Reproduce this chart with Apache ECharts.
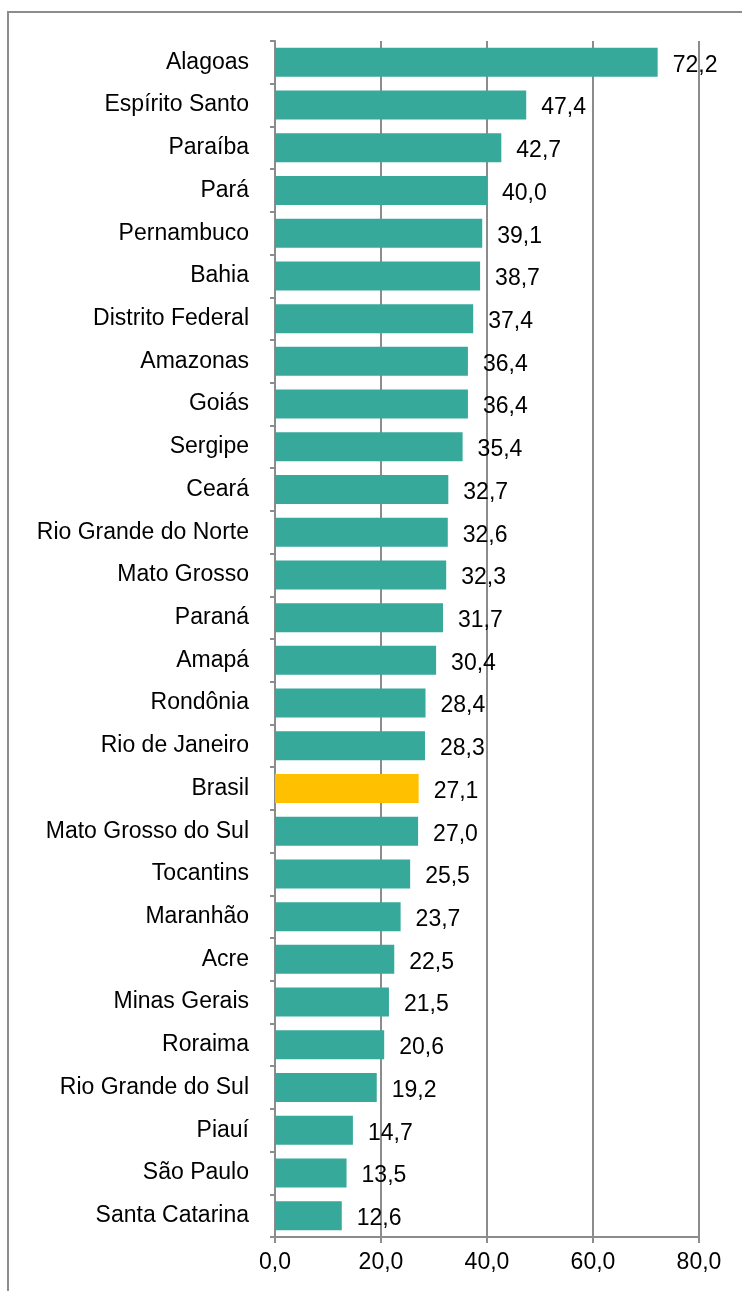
<!DOCTYPE html>
<html>
<head>
<meta charset="utf-8">
<script src="https://cdn.jsdelivr.net/npm/echarts@6/dist/echarts.min.js"></script>
<style>
  html, body { margin: 0; padding: 0; background: #fff; overflow: hidden; }
  #frame { position: absolute; left: 7px; top: 11px; width: 800px; height: 1400px; border: 2px solid #8c8c8c; box-sizing: border-box; }
  #chart { position: absolute; left: 0; top: 0; width: 742px; height: 1291px; }
</style>
</head>
<body>
<div id="frame"></div>
<div id="chart"></div>
<script>
// estados, do maior para o menor
const states = [
  "Alagoas", "Espírito Santo", "Paraíba", "Pará", "Pernambuco", "Bahia",
  "Distrito Federal", "Amazonas", "Goiás", "Sergipe", "Ceará",
  "Rio Grande do Norte", "Mato Grosso", "Paraná", "Amapá", "Rondônia",
  "Rio de Janeiro", "Brasil", "Mato Grosso do Sul", "Tocantins", "Maranhão",
  "Acre", "Minas Gerais", "Roraima", "Rio Grande do Sul", "Piauí",
  "São Paulo", "Santa Catarina"
];
const rates = [
  72.2, 47.4, 42.7, 40.0, 39.1, 38.7, 37.4, 36.4, 36.4, 35.4, 32.7,
  32.6, 32.3, 31.7, 30.4, 28.4, 28.3, 27.1, 27.0, 25.5, 23.7,
  22.5, 21.5, 20.6, 19.2, 14.7, 13.5, 12.6
];
const xTicks = [0, 20, 40, 60, 80];

const fmt = (v) => Number(v).toFixed(1).replace(".", ",");
const font = "'Liberation Sans', Arial, sans-serif";

const myChart = echarts.init(document.getElementById("chart"));

const options = {
  animation: false,
  grid: { left: 275, right: 43, top: 41, bottom: 54 },
  xAxis: {
    type: "value",
    min: xTicks[0],
    max: xTicks[xTicks.length - 1],
    interval: xTicks[1] - xTicks[0],
    axisLine: { show: true, lineStyle: { color: "#8c8c8c", width: 2 } },
    axisTick: { show: true, length: 6, lineStyle: { color: "#8c8c8c", width: 2 } },
    splitLine: { show: true, lineStyle: { color: "#8c8c8c", width: 2 } },
    axisLabel: { color: "#000", fontSize: 23, fontFamily: font, margin: 14, formatter: fmt }
  },
  yAxis: {
    type: "category",
    data: states,
    inverse: true,
    axisLine: { show: true, lineStyle: { color: "#8c8c8c", width: 2 } },
    axisTick: { show: true, length: 5, lineStyle: { color: "#8c8c8c", width: 2 } },
    axisLabel: { color: "#000", fontSize: 23, fontFamily: font, margin: 26, padding: [5, 0, 0, 0] }
  },
  series: [
    {
      type: "bar",
      data: rates.map((v, i) => ({
        value: v,
        itemStyle: { color: states[i] === "Brasil" ? "#ffc000" : "#37a99b" }
      })),
      barWidth: 29,
      label: {
        show: true,
        position: "right",
        distance: 15,
        offset: [0, 3],
        color: "#000",
        fontSize: 23,
        fontFamily: font,
        formatter: (p) => fmt(p.value)
      }
    }
  ]
};

myChart.setOption(options);
</script>
</body>
</html>
